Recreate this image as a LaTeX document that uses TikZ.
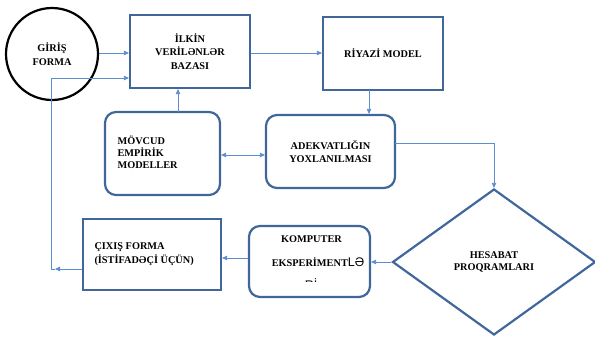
\documentclass[tikz,border=0pt]{standalone}
\usepackage{fontspec}
\setmainfont{Liberation Serif}
\newfontfamily\lsans{Liberation Sans}
\usetikzlibrary{shapes.geometric,arrows.meta,calc}
\definecolor{boxc}{HTML}{41679A}
\definecolor{linec}{HTML}{5B8ED0}
\tikzset{
  x=1pt, y=-1pt,
  txt/.style={font=\bfseries\fontsize{10.3}{13.5}\selectfont, align=center},
  sqbox/.style={draw=boxc, line width=2.2pt, fill=white, inner sep=0pt},
  rbox/.style={sqbox, rounded corners=11pt},
  conn/.style={draw=linec, line width=0.8pt, -{Triangle[length=5pt,width=4.5pt]}},
  dconn/.style={draw=linec, line width=0.8pt, {Triangle[length=5pt,width=4.5pt]}-{Triangle[length=5pt,width=4.5pt]}},
  plain/.style={draw=linec, line width=0.8pt}
}
\begin{document}
\begin{tikzpicture}
\useasboundingbox (0,0) rectangle (595,337);
% nodes
\node[circle, draw=black, line width=2.2pt, minimum size=92pt, inner sep=0pt, txt] (gir) at (52,54) {GİRİŞ\\FORMA};
\node[sqbox, minimum width=120pt, minimum height=73pt, txt] (ilk) at (190,51.5) {İLKİN\\VERİLƏNLƏR\\BAZASI};
\node[sqbox, minimum width=120pt, minimum height=73pt, txt] (riy) at (383,53.5) {RİYAZİ MODEL};
\node[rbox, minimum width=115pt, minimum height=83pt] (mov) at (162.5,153.5) {};
\node[txt, align=left, anchor=west, font=\bfseries\fontsize{10.3}{12}\selectfont] (movt) at (114,152) {MÖVCUD\\EMPİRİK\\MODELLER};
\node[rbox, minimum width=129pt, minimum height=73pt, txt] (ade) at (330.5,151.5) {ADEKVATLIĞIN\\YOXLANILMASI};
\node[diamond, draw=boxc, line width=2.2pt, minimum width=203pt, minimum height=146pt, inner sep=0pt, txt, font=\bfseries\fontsize{10.3}{12}\selectfont] (dia) at (494,262) {HESABAT\\PROQRAMLARI};
\node[rbox, minimum width=121pt, minimum height=71pt] (kom) at (309.5,261.5) {};
\node[txt] (komt1) at (311.5,239) {KOMPUTER};
\node[txt, anchor=base] (komt2) at (318,266) {EKSPERİMENT{\lsans\mdseries\fontsize{12.5}{13}\selectfont LƏ}};
\begin{scope}
  \clip (260,272) rectangle (360,281);
  \node[anchor=base, font=\lsans\fontsize{12.5}{13}\selectfont, inner sep=0pt] (komt3) at (311,289) {Rİ};
\end{scope}
\node[sqbox, minimum width=138pt, minimum height=71pt] (cix) at (152,254.5) {};
\node[txt, align=left, anchor=west] (cixt) at (91,254) {ÇIXIŞ FORMA\\(İSTİFADƏÇİ ÜÇÜN)};
% coordinates
\coordinate (l1) at (55,269);
\coordinate (l2) at (51,269);
\coordinate (l3) at (51,78);
\coordinate (m1) at (178,112);
\coordinate (r1) at (369,90);
\coordinate (a1) at (395,143);
% connectors
\draw[conn] (gir.east |- 0,53) -- (ilk.west |- 0,53);
\draw[conn] (ilk.east |- 0,53) -- (riy.west |- 0,53);
\draw[conn] (r1) -- (r1 |- ade.north);
\draw[conn] (m1) -- (m1 |- ilk.south);
\draw[dconn] (mov.east |- 0,155) -- (ade.west |- 0,155);
\draw[conn] (a1) -| (dia.north);
\draw[conn] (dia.west) -- (kom.east |- dia.west);
\draw[conn] (kom.west |- 0,258) -- (cix.east |- 0,258);
\draw[conn] (cix.west |- l1) -- (l1);
\draw[conn] (l1) -- (l2) -- (l3) -- (ilk.west |- l3);
\end{tikzpicture}
\end{document}
